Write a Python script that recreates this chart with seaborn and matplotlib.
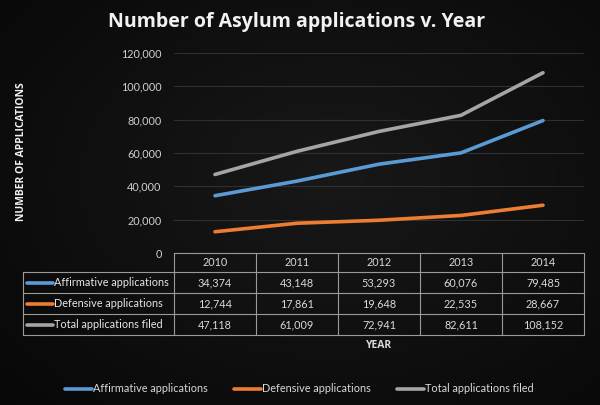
import numpy as np
import pandas as pd
import matplotlib
matplotlib.use("Agg")
import matplotlib.pyplot as plt
import seaborn as sns
from matplotlib.lines import Line2D

years = [2010, 2011, 2012, 2013, 2014]
affirmative = [34374, 43148, 53293, 60076, 79485]
defensive = [12744, 17861, 19648, 22535, 28667]
total = [47118, 61009, 72941, 82611, 108152]
series_names = ["Affirmative applications", "Defensive applications", "Total applications filed"]
colors = ["#5B9BD5", "#ED7D31", "#A5A5A5"]
y_ticks = [0, 20000, 40000, 60000, 80000, 100000, 120000]

sns.set_theme(style="dark")
plt.rcParams["font.family"] = ["Lato", "DejaVu Sans"]
fs = 7.8

W, H = 600, 405
fig = plt.figure(figsize=(6, 4.05), dpi=100)

# dark radial background
bg = fig.add_axes([0, 0, 1, 1])
yy, xx = np.mgrid[0:H, 0:W]
r = np.sqrt(((xx - 330) / 420) ** 2 + ((yy - 180) / 300) ** 2)
shade = np.clip(0.095 - 0.06 * r, 0.025, 0.095)
bg.imshow(np.dstack([shade] * 3), extent=[0, W, H, 0], aspect="auto")
bg.set_xlim(0, W)
bg.set_ylim(H, 0)
bg.axis("off")


def fx(px):
    return px / W


def fy(py):
    return 1 - py / H


# plot area
left, right, top, bottom = 174, 584, 53, 253
ax = fig.add_axes([fx(left), fy(bottom), fx(right - left), (bottom - top) / H])
ax.set_facecolor("none")

df = pd.DataFrame({
    "Year": years * 3,
    "x": list(range(len(years))) * 3,
    "Applications": affirmative + defensive + total,
    "Series": [series_names[0]] * 5 + [series_names[1]] * 5 + [series_names[2]] * 5,
})
sns.lineplot(data=df, x="x", y="Applications", hue="Series", palette=colors,
             linewidth=2.6, ax=ax, legend=False, solid_capstyle="round")
ax.set_xlim(-0.5, len(years) - 0.5)
ax.set_ylim(0, 120000)
ax.set_yticks(y_ticks)
ax.set_yticklabels([f"{v:,}" for v in y_ticks], color="#d0d0d0", fontsize=fs)
ax.set_xticks([])
ax.set_xlabel("")
ax.set_ylabel("")
ax.tick_params(axis="y", length=0, pad=9)
ax.grid(axis="y", color="#303030", linewidth=0.8)
ax.grid(axis="x", visible=False)
for s in ax.spines.values():
    s.set_visible(False)

# title and axis titles
fig.text(fx(297), fy(22), "Number of Asylum applications v. Year", ha="center", va="center",
         color="#f2f2f2", fontsize=14, fontweight="bold", family=["Open Sans", "DejaVu Sans"])
fig.text(fx(22), fy(152), "NUMBER OF APPLICATIONS", ha="center", va="center", rotation=90,
         color="#f2f2f2", fontsize=7.5, fontweight="bold", family=["Open Sans", "DejaVu Sans"])
fig.text(fx(379), fy(345), "YEAR", ha="center", va="center",
         color="#d9d9d9", fontsize=7.5, fontweight="bold", family=["Open Sans", "DejaVu Sans"])

# data table below the plot
rows_y = [253, 272, 293, 314, 335]
col_x = [174, 256, 338, 420, 502, 584]
lab_left = 23
line_kw = dict(color="#9a9a9a", linewidth=0.8, transform=fig.transFigure)
fig.add_artist(Line2D([fx(col_x[0]), fx(col_x[-1])], [fy(rows_y[0])] * 2, **line_kw))
for yv in rows_y[1:]:
    fig.add_artist(Line2D([fx(lab_left), fx(col_x[-1])], [fy(yv)] * 2, **line_kw))
for xv in col_x:
    fig.add_artist(Line2D([fx(xv)] * 2, [fy(rows_y[0]), fy(rows_y[-1])], **line_kw))
fig.add_artist(Line2D([fx(lab_left)] * 2, [fy(rows_y[1]), fy(rows_y[-1])], **line_kw))

for i, yr in enumerate(years):
    cx = (col_x[i] + col_x[i + 1]) / 2
    fig.text(fx(cx), fy((rows_y[0] + rows_y[1]) / 2), str(yr), ha="center", va="center",
             color="#d9d9d9", fontsize=fs)

for j, (name, vals, c) in enumerate(zip(series_names, [affirmative, defensive, total], colors)):
    cy = fy((rows_y[j + 1] + rows_y[j + 2]) / 2)
    fig.add_artist(Line2D([fx(27), fx(53)], [cy, cy], color=c, linewidth=2.6,
                          solid_capstyle="round", transform=fig.transFigure))
    fig.text(fx(54), cy, name, ha="left", va="center", color="#e6e6e6", fontsize=fs)
    for i, v in enumerate(vals):
        cx = (col_x[i] + col_x[i + 1]) / 2
        fig.text(fx(cx), cy, f"{v:,}", ha="center", va="center", color="#d9d9d9", fontsize=fs)

# legend at bottom
handles = [Line2D([], [], color=c, linewidth=2.6, solid_capstyle="round") for c in colors]
fig.legend(handles, series_names, loc="center", bbox_to_anchor=(fx(299), fy(389)), ncol=3,
           frameon=False, fontsize=fs, labelcolor="#d9d9d9", handlelength=2.5,
           handletextpad=0.1, columnspacing=2.4)

fig.savefig("out.png", dpi=100)
